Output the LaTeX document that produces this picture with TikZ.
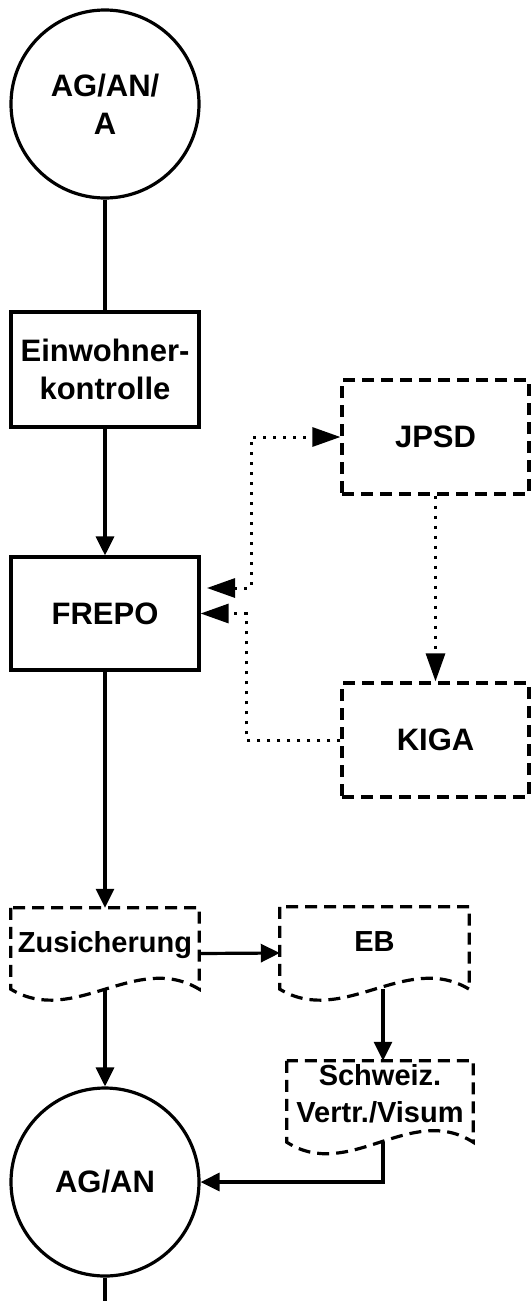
\documentclass[tikz,border=0pt]{standalone}
\usepackage{fontspec}
\setmainfont{Liberation Sans}
\usetikzlibrary{arrows.meta,calc}
\tikzset{
  dottip/.tip={Triangle[length=28pt,width=19pt,line cap=butt]},
  soltip/.tip={Triangle[length=19pt,width=18pt]},
}
\begin{document}
\begin{tikzpicture}[x=1pt,y=-1pt,
  bigfont/.style={font=\fontsize{31}{38}\selectfont\bfseries},
  smallfont/.style={font=\fontsize{29}{37}\selectfont\bfseries},
  circnode/.style={circle,draw,line width=3.2pt,minimum size=188pt,inner sep=0pt,align=center,bigfont},
  boxnode/.style={rectangle,draw,line width=3.2pt,inner sep=0pt,align=center,bigfont},
  dashbox/.style={rectangle,draw,line width=3.2pt,dash pattern=on 12pt off 7pt,inner sep=0pt,align=center,bigfont},
  docnode/.style={rectangle,inner sep=0pt,align=center,smallfont},
  docline/.style={line width=3.2pt,dash pattern=on 12pt off 7pt},
  conn/.style={line width=3.2pt,-soltip},
  plainconn/.style={line width=3.2pt},
  dotconn/.style={line width=3pt,dash pattern=on 3pt off 7pt},
]
\useasboundingbox (0,0) rectangle (531,1301);

% nodes
\node[circnode] (ag1) at (105,104) {AG/AN/\\A};
\node[boxnode,minimum width=188pt,minimum height=115pt] (ek) at (105,369.5) {Einwohner-\\kontrolle};
\node[boxnode,minimum width=188pt,minimum height=113pt] (frepo) at (105,613.5) {FREPO};
\node[dashbox,minimum width=187pt,minimum height=114pt] (jpsd) at (435.5,437) {JPSD};
\node[dashbox,minimum width=187pt,minimum height=114pt] (kiga) at (435.5,740) {KIGA};
\node[docnode,minimum width=188pt,minimum height=81pt,text height=22pt,text depth=15pt] (zus) at (105,948.5) {Zusicherung};
\node[docnode,minimum width=189pt,minimum height=82pt,text height=22pt,text depth=15pt] (eb) at (374.5,948) {EB};
\node[docnode,minimum width=186pt,minimum height=81pt,text height=58pt,text depth=17pt] (schw) at (380,1101.5) {Schweiz.\\Vertr./Visum};
\node[circnode] (ag2) at (105,1182) {AG/AN};

% document outlines
\draw[docline] (zus.north west) -- (zus.south west)
  .. controls ($(zus.south west)+(63,38)$) and ($(zus.south east)+(-63,-38)$) .. (zus.south east)
  -- (zus.north east) -- cycle;
\draw[docline] (eb.north west) -- (eb.south west)
  .. controls ($(eb.south west)+(63,38)$) and ($(eb.south east)+(-63,-38)$) .. (eb.south east)
  -- (eb.north east) -- cycle;
\draw[docline] (schw.north west) -- (schw.south west)
  .. controls ($(schw.south west)+(62,40)$) and ($(schw.south east)+(-62,-40)$) .. (schw.south east)
  -- (schw.north east) -- cycle;

% helper coordinates
\coordinate (upstart) at (207,588);
\coordinate (ebout) at ([xshift=8.5pt]eb.south);
\coordinate (schwout) at ([xshift=3pt]schw.south);
\coordinate (bottomend) at (105,1301);

% connectors
\draw[plainconn] (ag1.south) -- (ek.north);
\draw[conn] (ek.south) -- (frepo.north);
\draw[conn] (frepo.south) -- (zus.north);
\draw[conn] ([yshift=-5pt]zus.east) -- ([yshift=-5pt]eb.west);
\draw[conn] (zus.south) -- (ag2.north);
\draw[conn] (ebout) -- (ebout |- schw.north);
\draw[conn] (schwout) |- (ag2.east);
\draw[plainconn] (ag2.south) -- (bottomend);

\draw[dotconn,dottip-dottip] (upstart) -- (251,588) |- (jpsd.west);
\draw[dotconn,-dottip] (jpsd.south) -- (kiga.north);
\draw[dotconn,-dottip] (kiga.west) -| (246,613.5) -- (frepo.east);
\end{tikzpicture}
\end{document}
